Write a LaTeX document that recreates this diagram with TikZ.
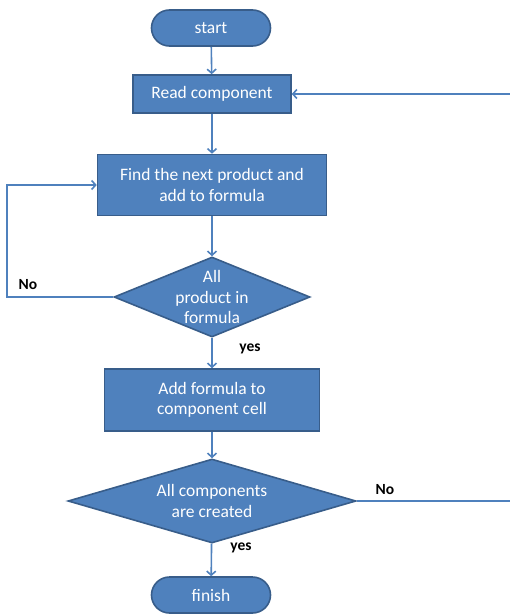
\documentclass[tikz,border=0pt]{standalone}
\usepackage{fontspec}
\setmainfont{Carlito}
\usetikzlibrary{shapes,arrows.meta,positioning,calc}
\definecolor{flowblue}{RGB}{79,129,189}
\definecolor{flowedge}{RGB}{56,93,138}

\begin{document}
\begin{tikzpicture}[x=1pt,y=-1pt,
    box/.style={draw=flowedge, line width=1.6pt, fill=flowblue, text=white,
        inner sep=0pt, align=center, font=\fontsize{17.5}{20.5}\selectfont},
    term/.style={box, rounded corners=18pt, minimum width=119pt, minimum height=36pt},
    decide/.style={box, diamond, aspect=2.5},
    flow/.style={-{Straight Barb[length=4pt,width=9pt]}, draw=flowblue, line width=1.6pt},
    tag/.style={font=\fontsize{15.5}{18}\selectfont\bfseries, text=black}]
    \useasboundingbox (0,0) rectangle (510,615);

    % Main column
    \node[term] (start) at (211,28) {start};
    \node[box, minimum width=158pt, minimum height=38pt] (read) at (212,94) {Read component};
    \node[box, minimum width=229pt, minimum height=61pt] (find) at (212,185) {Find the next product and\\add to formula};
    \node[decide, minimum width=196pt, minimum height=80pt, inner sep=-8pt] (dec1) at (212,297) {All\\product in\\formula};
    \node[box, minimum width=215pt, minimum height=62pt] (addf) at (212,400) {Add formula to\\component cell};
    \node[decide, minimum width=288pt, minimum height=84pt] (dec2) at (212,501) {All components\\are created};
    \node[term] (finish) at (211,595) {finish};

    % Connections
    \draw[flow] (start) -- (read);
    \draw[flow] (read) -- (find);
    \draw[flow] (find) -- (dec1);
    \draw[flow] (dec1) -- (addf);
    \draw[flow] (addf) -- (dec2);
    \draw[flow] (dec2) -- (finish);

    % Loops back
    \coordinate (loopL) at (7,297);
    \coordinate (loopR) at (514,501);
    \draw[flow] (dec1.west) -- (loopL) |- (find.west);
    \draw[flow] (dec2.east) -- (loopR) |- (read.east);

    % Labels
    \node[tag] (noL) at (28,285) {No};
    \node[tag] (yesA) at (250,349) {yes};
    \node[tag] (noR) at (385,490) {No};
    \node[tag] (yesB) at (241,548) {yes};
\end{tikzpicture}
\end{document}
